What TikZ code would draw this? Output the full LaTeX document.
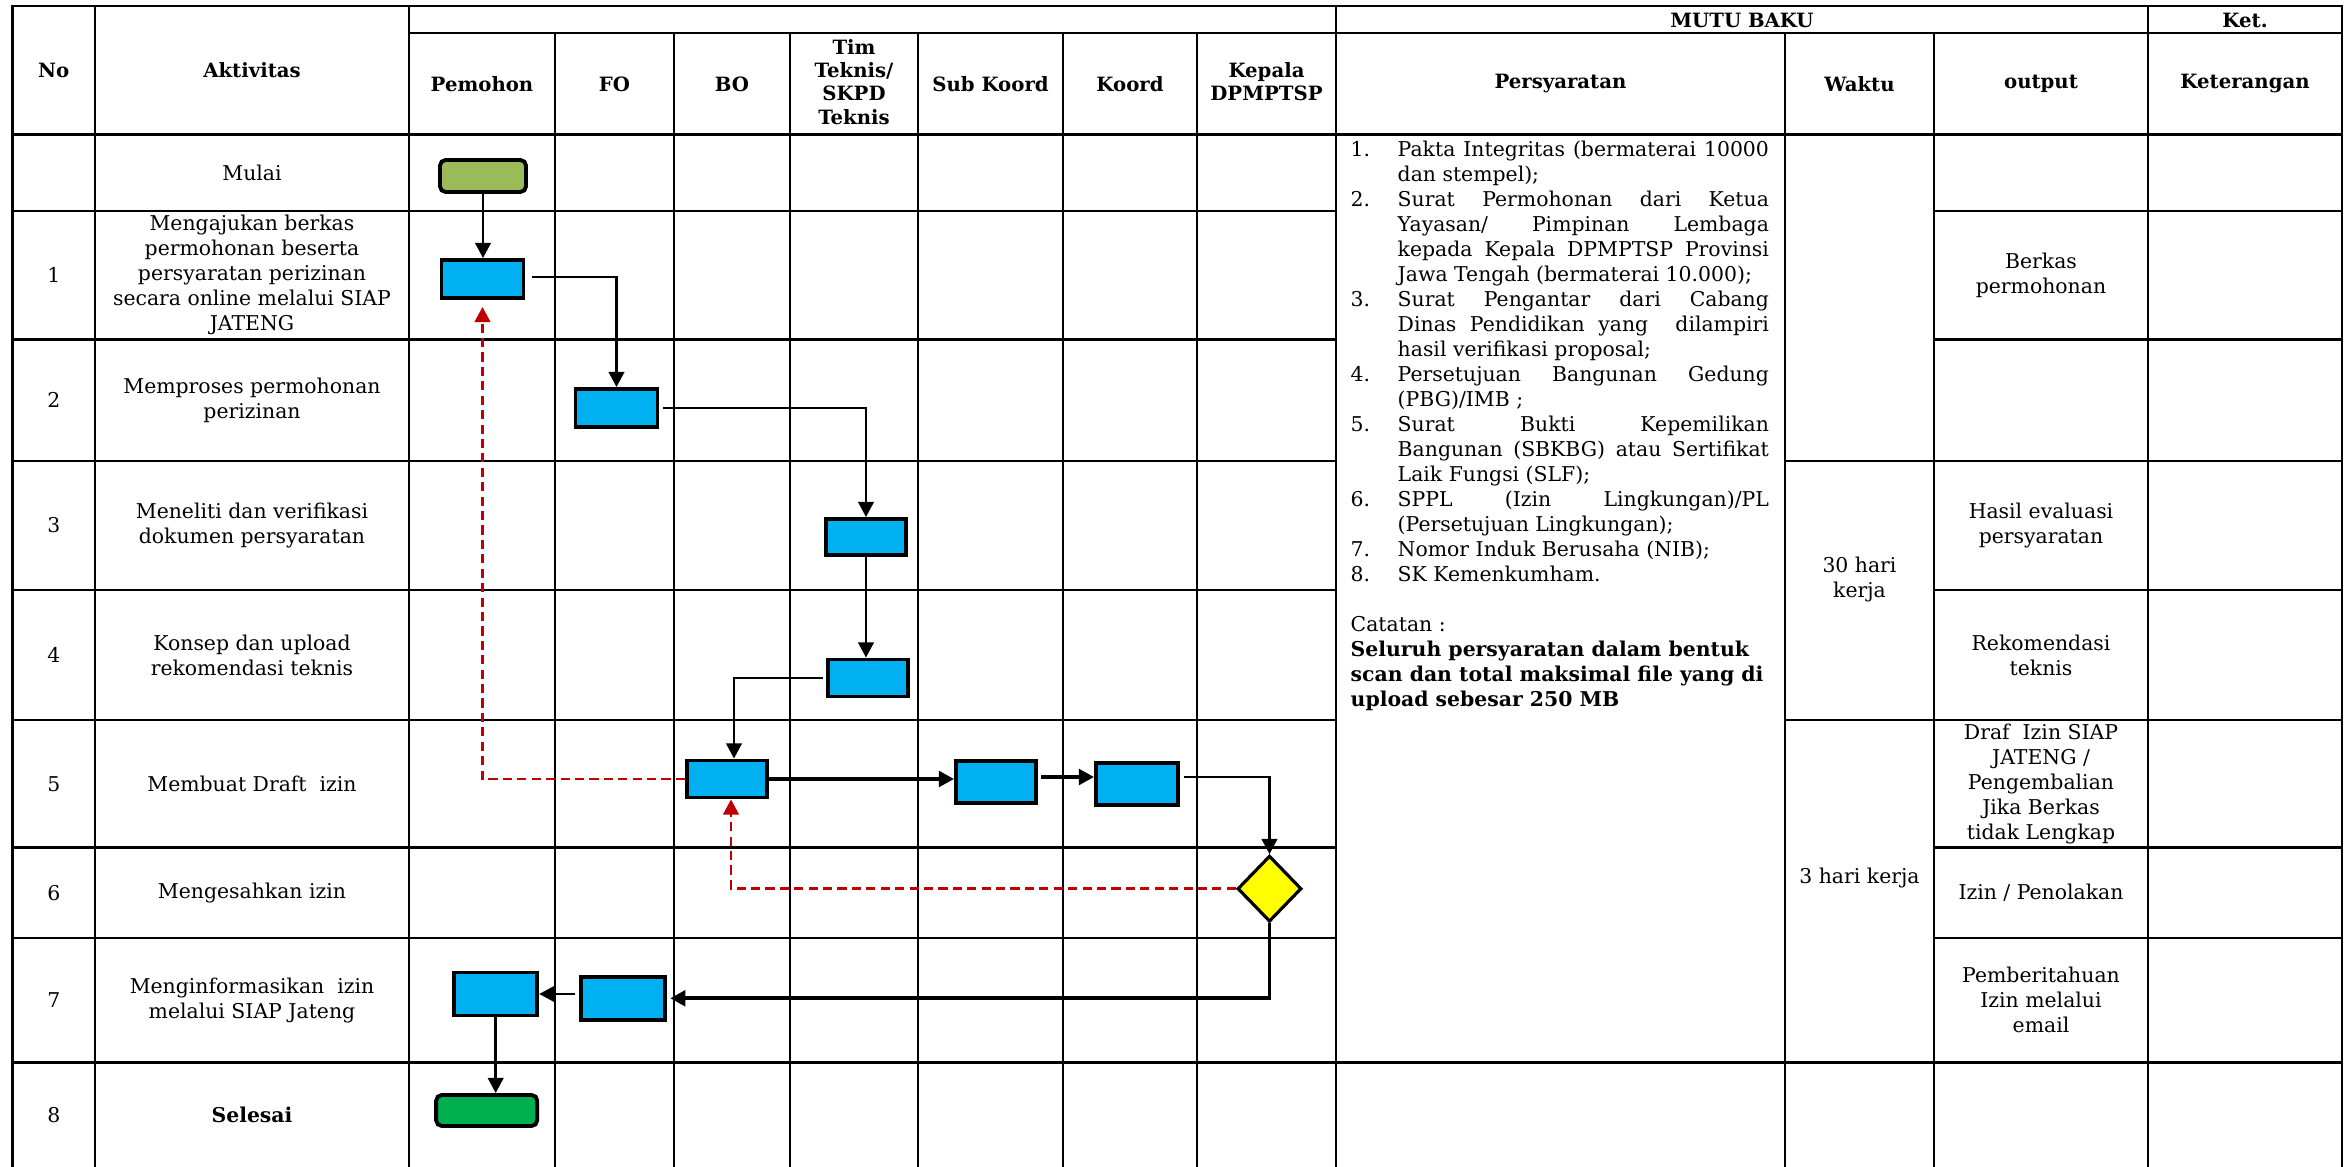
\documentclass[tikz,border=0pt]{standalone}
\usepackage{fontspec}
\setmainfont{DejaVu Serif}
\usetikzlibrary{arrows.meta,shapes.geometric,calc}
\definecolor{boxblue}{HTML}{00B0F0}
\definecolor{startgreen}{HTML}{9BBB59}
\definecolor{endgreen}{HTML}{00B050}
\definecolor{decyellow}{HTML}{FFFF00}
\definecolor{backred}{HTML}{C00000}
\newcommand\reqL[2]{\makebox[0.47cm][l]{#1}\makebox[3.71cm][s]{#2}}
\newcommand\reqE[2]{\makebox[0.47cm][l]{#1}#2}
\begin{document}
\begin{tikzpicture}[x=0.01cm,y=-0.01cm,
  grid/.style={line width=0.7pt, line cap=rect},
  hdr/.style={font=\fontsize{5.6}{6.6}\selectfont\bfseries, align=center, inner sep=0pt},
  txt/.style={font=\fontsize{5.8}{7.11}\selectfont, align=center, inner sep=0pt},
  proc/.style={draw, line width=1.1pt, fill=boxblue, minimum width=0.82cm, minimum height=0.38cm, inner sep=0pt},
  term/.style={draw, line width=1.1pt, rounded corners=1.6pt, inner sep=0pt},
  dec/.style={diamond, draw, line width=0.9pt, fill=decyellow, minimum width=0.64cm, minimum height=0.66cm, inner sep=0pt},
  flow/.style={line width=0.72pt, -{Triangle[length=4.3pt,width=4.4pt]}},
  flowthick/.style={line width=1.1pt, -{Triangle[length=4.3pt,width=4.4pt]}},
  back/.style={color=backred, line width=0.8pt, dash pattern=on 2.6pt off 1.5pt, -{Triangle[length=4.3pt,width=4.4pt]}}
]
\fill[white] (0,0) rectangle (2347,1167);
\useasboundingbox (0,0) rectangle (2347,1167);

% ---------- grid ----------
\draw[grid] (12.5,6) -- (2342,6);
\draw[grid] (409,33) -- (2342,33);
\draw[grid] (12.5,134.5) -- (2342,134.5);
\foreach \y in {211,339.5,590,847.5,938} {
  \draw[grid] (12.5,\y) -- (1336,\y);
  \draw[grid] (1934,\y) -- (2342,\y);
}
\foreach \y in {461,720} {
  \draw[grid] (12.5,\y) -- (1336,\y);
  \draw[grid] (1785,\y) -- (2342,\y);
}
\draw[grid] (12.5,1062.5) -- (2342,1062.5);
\foreach \x in {12.5,95,409,1336,2148,2342} \draw[grid] (\x,6) -- (\x,1167);
\foreach \x in {555,674,790,918,1063,1197,1785,1934} \draw[grid] (\x,33) -- (\x,1167);

% ---------- headers ----------
\node[hdr] (hNo) at (53.75,70) {No};
\node[hdr] (hAkt) at (252,70) {Aktivitas};
\node[hdr] (hPem) at (482,84) {Pemohon};
\node[hdr] (hFO) at (614.5,84) {FO};
\node[hdr] (hBO) at (732,84) {BO};
\node[hdr, font=\fontsize{5.6}{6.6}\selectfont\bfseries] (hTim) at (854,82) {Tim\\Teknis/\\SKPD\\Teknis};
\node[hdr] (hSub) at (990.5,84) {Sub Koord};
\node[hdr] (hKoo) at (1130,84) {Koord};
\node[hdr] (hKep) at (1266.5,82) {Kepala\\DPMPTSP};
\node[hdr] (hMutu) at (1742,20) {MUTU BAKU};
\node[hdr] (hKet) at (2245,20) {Ket.};
\node[hdr] (hPer) at (1560.5,84) {Persyaratan};
\node[hdr] (hWak) at (1859.5,84) {Waktu};
\node[hdr] (hOut) at (2041,84) {output};
\node[hdr] (hKtr) at (2245,84) {Keterangan};

% ---------- rows ----------
\node[txt] (a0) at (252,172.75) {Mulai};
\node[txt] (n1) at (53.75,275.25) {1};
\node[txt] (a1) at (252,275.25) {Mengajukan berkas\\permohonan beserta\\persyaratan perizinan\\secara online melalui SIAP\\JATENG};
\node[txt] (n2) at (53.75,400.25) {2};
\node[txt] (a2) at (252,400.25) {Memproses permohonan\\perizinan};
\node[txt] (n3) at (53.75,525.5) {3};
\node[txt] (a3) at (252,525.5) {Meneliti dan verifikasi\\dokumen persyaratan};
\node[txt] (n4) at (53.75,655) {4};
\node[txt] (a4) at (252,655) {Konsep dan upload\\rekomendasi teknis};
\node[txt] (n5) at (53.75,783.75) {5};
\node[txt] (a5) at (252,783.75) {Membuat Draft\ \ izin};
\node[txt] (n6) at (53.75,892.75) {6};
\node[txt] (a6) at (252,892.75) {Mengesahkan izin};
\node[txt] (n7) at (53.75,1000.25) {7};
\node[txt] (a7) at (252,1000.25) {Menginformasikan\ \ izin\\melalui SIAP Jateng};
\node[txt] (n8) at (53.75,1114.75) {8};
\node[txt, font=\fontsize{5.8}{7.11}\selectfont\bfseries] (a8) at (252,1114.75) {Selesai};

% ---------- output / waktu ----------
\node[txt] (o1) at (2041,275.25) {Berkas\\permohonan};
\node[txt] (o3) at (2041,525.5) {Hasil evaluasi\\persyaratan};
\node[txt] (o4) at (2041,655) {Rekomendasi\\teknis};
\node[txt] (o5) at (2041,784) {Draf\ \ Izin SIAP\\JATENG /\\Pengembalian\\Jika Berkas\\tidak Lengkap};
\node[txt] (o6) at (2041,892.75) {Izin / Penolakan};
\node[txt] (o7) at (2041,1000.25) {Pemberitahuan\\Izin melalui\\email};
\node[txt] (w1) at (1859.5,580) {30 hari\\kerja};
\node[txt] (w2) at (1859.5,878) {3 hari kerja};

% ---------- persyaratan ----------
\node[anchor=north west, inner sep=0pt, align=left, font=\fontsize{5.8}{7.11}\selectfont] (req) at (1350,140) {%
\reqL{1.}{Pakta Integritas (bermaterai 10000}\\
\reqE{}{dan stempel);}\\
\reqL{2.}{Surat Permohonan dari Ketua}\\
\reqL{}{Yayasan/ Pimpinan Lembaga}\\
\reqL{}{kepada Kepala DPMPTSP Provinsi}\\
\reqE{}{Jawa Tengah (bermaterai 10.000);}\\
\reqL{3.}{Surat Pengantar dari Cabang}\\
\reqL{}{Dinas Pendidikan yang\ \ dilampiri}\\
\reqE{}{hasil verifikasi proposal;}\\
\reqL{4.}{Persetujuan Bangunan Gedung}\\
\reqE{}{(PBG)/IMB ;}\\
\reqL{5.}{Surat Bukti Kepemilikan}\\
\reqL{}{Bangunan (SBKBG) atau Sertifikat}\\
\reqE{}{Laik Fungsi (SLF);}\\
\reqL{6.}{SPPL (Izin Lingkungan)/PL}\\
\reqE{}{(Persetujuan Lingkungan);}\\
\reqE{7.}{Nomor Induk Berusaha (NIB);}\\
\reqE{8.}{SK Kemenkumham.}\\
\mbox{}\\
Catatan :\\
\textbf{Seluruh persyaratan dalam bentuk}\\
\textbf{scan dan total maksimal file yang di}\\
\textbf{upload sebesar 250 MB}};

% ---------- flow shapes ----------
\node[term, fill=startgreen, minimum width=0.86cm, minimum height=0.32cm] (start) at (483,176) {};
\node[proc] (p1) at (482.5,279) {};
\node[proc] (p2) at (616.5,408) {};
\node[proc, minimum width=0.80cm, minimum height=0.36cm] (p3) at (866,537) {};
\node[proc, minimum width=0.80cm, minimum height=0.37cm] (p4) at (868,678) {};
\node[proc, minimum width=0.80cm, minimum height=0.37cm] (p5) at (727,779) {};
\node[proc, minimum width=0.80cm, minimum height=0.42cm] (p6) at (996,782) {};
\node[proc, minimum width=0.82cm, minimum height=0.42cm] (p7) at (1137,784) {};
\node[dec] (d) at (1269.5,888.7) {};
\node[proc, minimum width=0.83cm, minimum height=0.43cm] (p8) at (495.7,994) {};
\node[proc, minimum width=0.84cm, minimum height=0.43cm] (p9) at (622.8,998.3) {};
\node[term, fill=endgreen, minimum width=1.01cm, minimum height=0.31cm] (end) at (486.7,1110.5) {};

% ---------- connectors ----------
\draw[flow] (start.south) -- (start.south |- p1.north);
\draw[flow, shorten <=2pt] ([yshift=0.02cm]p1.east) -| (p2.north);
\draw[flow, shorten <=1pt] (p2.east) -| (p3.north);
\draw[flow] (p3.south) -- (p3.south |- p4.north);
\draw[flow, shorten <=1pt] (p4.west) -| ([xshift=0.07cm]p5.north);
\draw[flowthick] (p5.east) -- (p5.east -| p6.west);
\draw[flowthick, shorten <=1pt] ([yshift=0.05cm]p6.east) -- ([yshift=0.05cm]p6.east -| p7.west);
\draw[flow, shorten <=1.1pt] ([yshift=0.07cm]p7.east) -| (d.north);
\draw[flowthick, shorten >=1pt] (d.south) |- (p9.east);
\draw[flow, shorten <=1pt] (p8.east -| p9.west) -- (p8.east);
\draw[flow] (p8.south) -- (p8.south |- end.north);
\draw[back] (d.west) -| ([xshift=0.04cm]p5.south);
\draw[back, shorten >=2pt] (p5.west) -| (p1.south);
\end{tikzpicture}
\end{document}
